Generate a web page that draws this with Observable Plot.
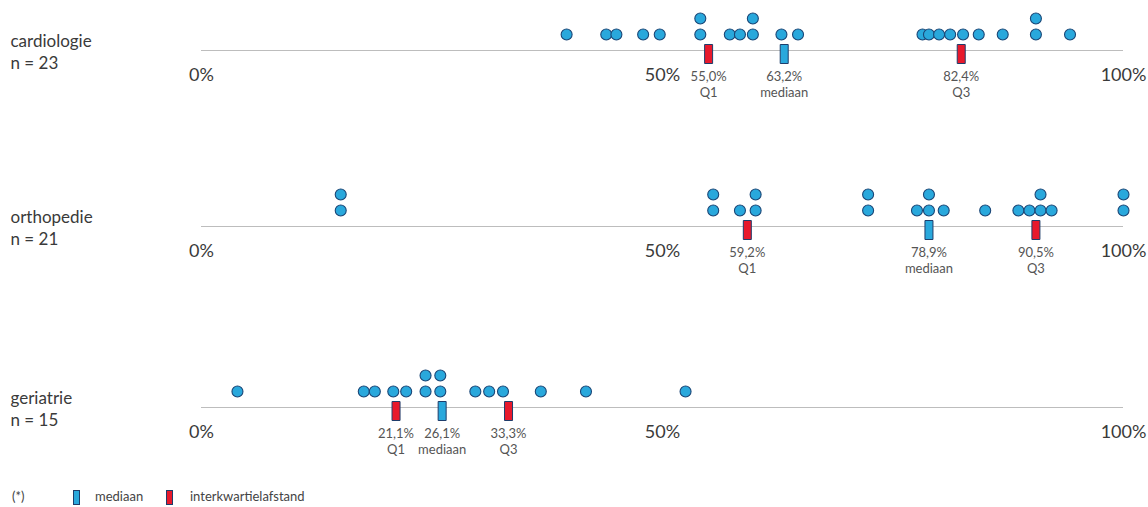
<!DOCTYPE html>
<html><head><meta charset="utf-8">
<script src="https://cdn.jsdelivr.net/npm/d3@7"></script>
<script src="https://cdn.jsdelivr.net/npm/@observablehq/plot@0.6"></script>
<style>
body{margin:0;background:#fff;font-family:Lato,"Noto Sans",sans-serif;}
#chart{position:relative;width:1148px;height:507px;overflow:hidden;}
#chart svg{display:block;}
.legend{position:absolute;top:487px;left:0;width:1148px;height:18px;font-size:13px;font-weight:400;color:#444;}
.legend span{position:absolute;top:0;white-space:nowrap;line-height:18px;}
.legend .sw{width:5px;height:13px;border:1px solid #1e3d6b;top:3px;box-sizing:content-box;}
</style></head><body>
<div id="chart"></div>
<script>
// ---- data ----
const departments = ["cardiologie", "orthopedie", "geriatrie"];
const counts = [23, 21, 15];
const cardiologieScores = [39.6, 43.9, 45.0, 47.9, 49.7, 54.1, 54.1, 57.3, 58.4, 59.8, 59.8, 62.9, 64.7, 78.2, 78.9, 80.0, 81.2, 82.6, 84.3, 86.9, 90.5, 90.5, 94.2];
const orthopedieScores = [15.1, 15.1, 55.5, 55.5, 58.4, 60.1, 60.1, 72.3, 72.3, 77.6, 78.9, 78.9, 80.5, 85.0, 88.6, 89.8, 91.0, 91.0, 92.2, 100, 100];
const geriatrieScores = [3.9, 17.6, 18.8, 20.8, 22.2, 24.3, 24.3, 25.9, 25.9, 29.7, 31.2, 32.7, 36.8, 41.7, 52.5];
const quartileLabels = ["Q1", "mediaan", "Q3"];
const cardiologieQuartiles = [55.0, 63.2, 82.4];
const orthopedieQuartiles = [59.2, 78.9, 90.5];
const geriatrieQuartiles = [21.1, 26.1, 33.3];
const axisTicks = [0, 50, 100];
const legendItems = ["mediaan", "interkwartielafstand"];

const scoreLists = [cardiologieScores, orthopedieScores, geriatrieScores];
const quartileLists = [cardiologieQuartiles, orthopedieQuartiles, geriatrieQuartiles];

// ---- style ----
const rowHeights = [176, 181, 113];
const baseline = 50;
const dotFill = "#29a8dc", dotStroke = "#1b4676";
const medianFill = "#29a8dc", iqrFill = "#e8192c", markerStroke = "#1e3d6b";
const markerSymbol = { draw(ctx) { ctx.rect(-4, -6, 8, 19); } };
const fmt = v => v.toFixed(1).replace(".", ",") + "%";

const chart = document.getElementById("chart");

departments.forEach((dept, i) => {
  const seen = new Map();
  const dots = scoreLists[i].map(v => {
    const k = (seen.get(v) || 0) + 1;
    seen.set(v, k);
    return {value: v, level: k};
  });
  const markers = quartileLabels.map((label, j) => ({value: quartileLists[i][j], label}));
  const medians = markers.filter(d => d.label === "mediaan");
  const iqr = markers.filter(d => d.label !== "mediaan");

  const plot = Plot.plot({
    width: 1148,
    height: rowHeights[i],
    marginLeft: 201, marginRight: 25, marginTop: 0, marginBottom: 0,
    x: {domain: [0, 100], axis: null},
    y: {domain: [0, 2], range: [baseline, baseline - 32], axis: null},
    style: {fontFamily: "Lato, 'Noto Sans', sans-serif", overflow: "visible", background: "#fff"},
    marks: [
      Plot.ruleY([0], {stroke: "#bdbdbd", strokeWidth: 1}),
      Plot.text([dept + "\nn = " + counts[i]], {
        frameAnchor: "left", y: 0, dx: -191, dy: 18, textAnchor: "start",
        lineAnchor: "bottom", lineHeight: 1.24, fontSize: 17, fontWeight: 400, fill: "#3a3a3a"
      }),
      Plot.text(axisTicks, {
        x: d => d, y: 0, text: d => d + "%", dy: 30, lineAnchor: "bottom",
        fontSize: 18, fontWeight: 400, fill: "#3a3a3a"
      }),
      Plot.dot(dots, {x: "value", y: "level", r: 5.5, fill: dotFill, stroke: dotStroke, strokeWidth: 1.1}),
      Plot.dot(iqr, {x: "value", y: 0, symbol: markerSymbol, fill: iqrFill, stroke: markerStroke, strokeWidth: 1}),
      Plot.dot(medians, {x: "value", y: 0, symbol: markerSymbol, fill: medianFill, stroke: markerStroke, strokeWidth: 1}),
      Plot.text(markers, {
        x: "value", y: 0, text: d => fmt(d.value), dy: 30, lineAnchor: "bottom",
        fontSize: 13, fontWeight: 400, fill: "#555"
      }),
      Plot.text(markers, {
        x: "value", y: 0, text: "label", dy: 46, lineAnchor: "bottom",
        fontSize: 13, fontWeight: 400, fill: "#555"
      })
    ]
  });
  chart.appendChild(plot);
});

// ---- legend ----
const legend = document.createElement("div");
legend.className = "legend";
legend.innerHTML =
  `<span style="left:12px">(*)</span>` +
  `<span class="sw" style="left:73px;background:${medianFill}"></span>` +
  `<span style="left:95px">${legendItems[0]}</span>` +
  `<span class="sw" style="left:166px;background:${iqrFill}"></span>` +
  `<span style="left:190px">${legendItems[1]}</span>`;
chart.appendChild(legend);
</script>
</body></html>
